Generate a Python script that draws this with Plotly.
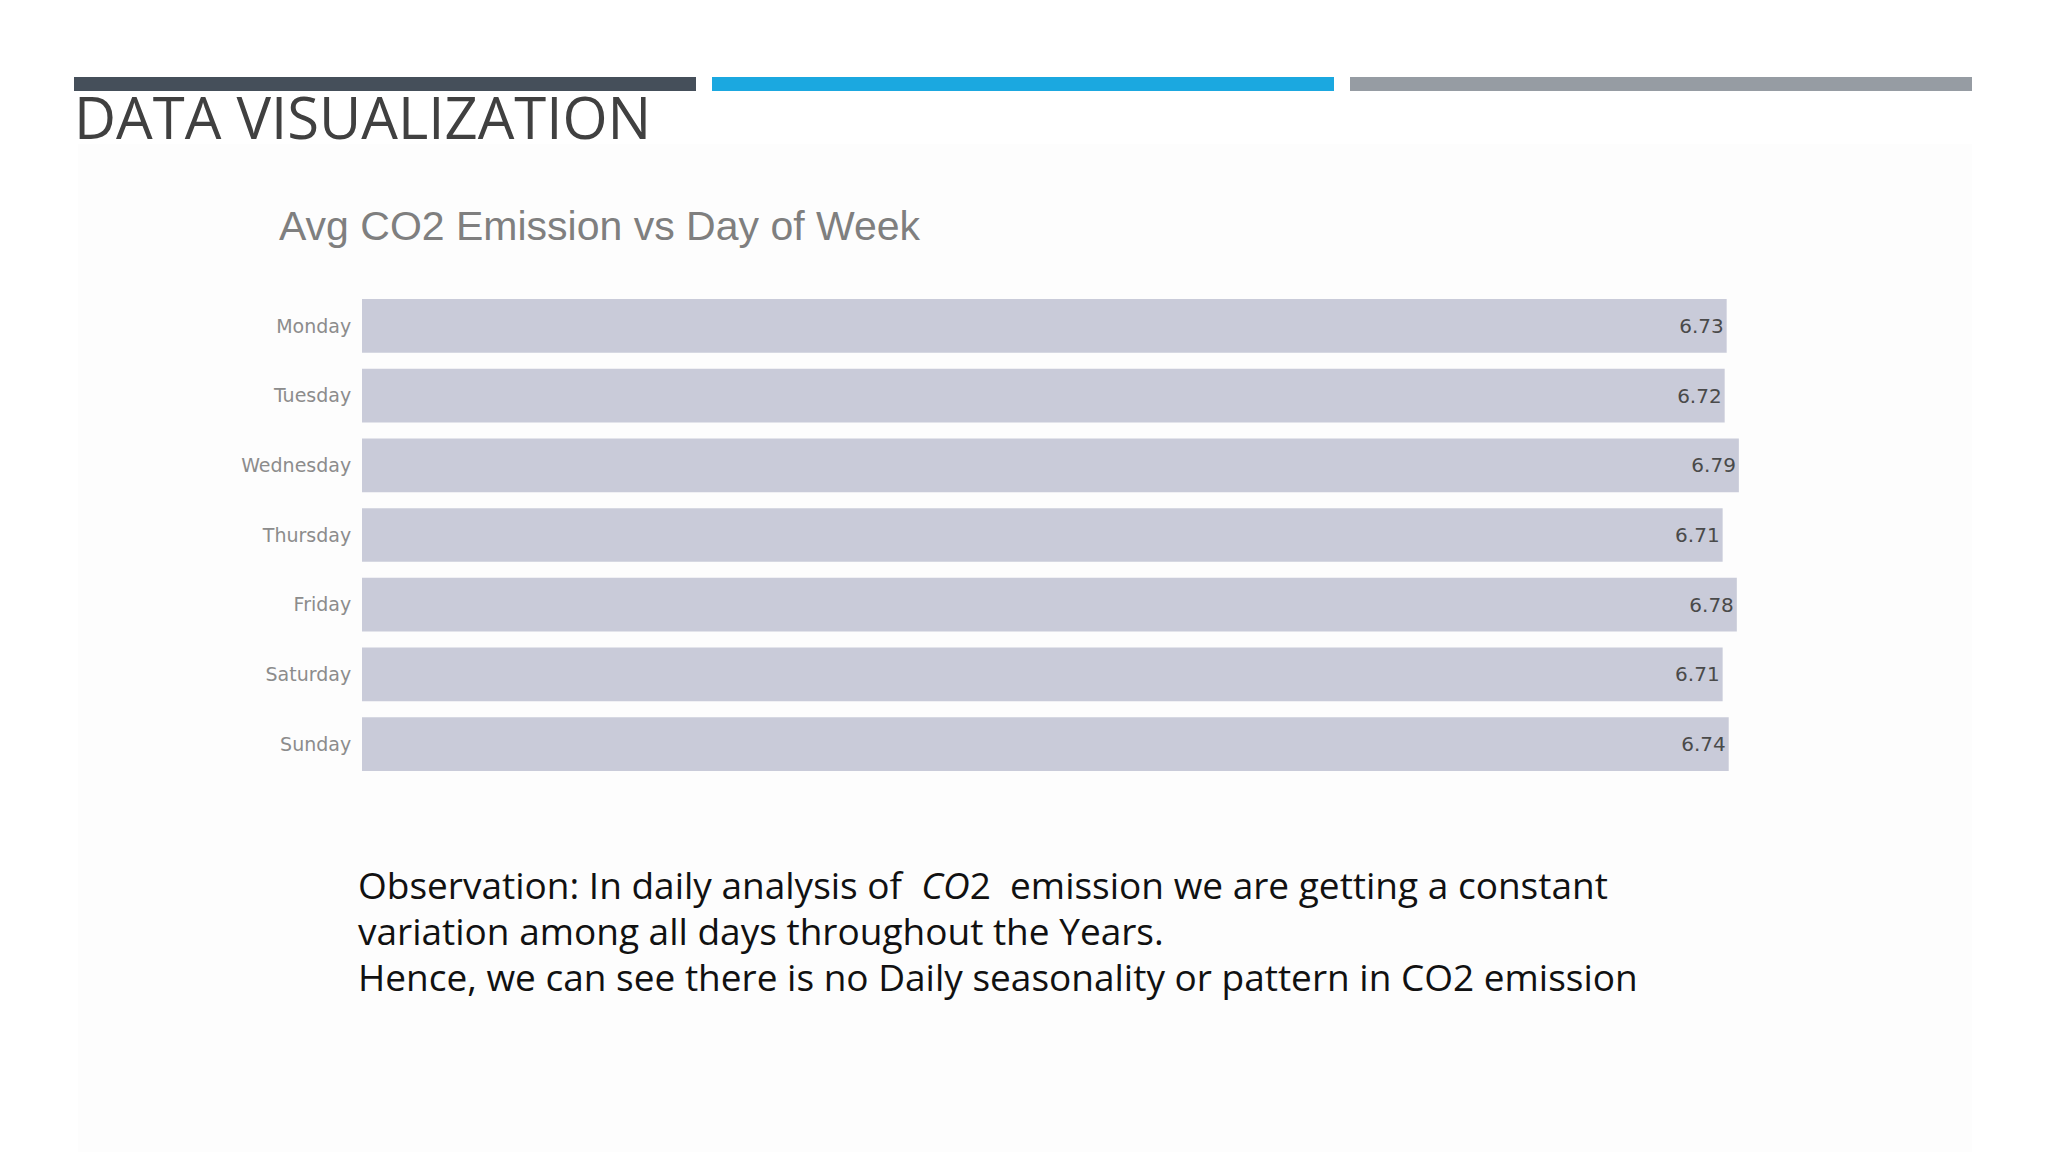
import plotly.graph_objects as go

# data
days = ['Monday', 'Tuesday', 'Wednesday', 'Thursday', 'Friday', 'Saturday', 'Sunday']
avg_co2 = [6.73, 6.72, 6.79, 6.71, 6.78, 6.71, 6.74]
notes = [
    'Observation: In daily analysis of  <i>CO</i>2  emission we are getting a constant',
    'variation among all days throughout the Years.',
    'Hence, we can see there is no Daily seasonality or pattern in CO2 emission',
]

W, H = 2048, 1152
DX, DY = -8, -8  # small nudge to line up with the slide


def px_x(x):
    return (x + DX) / W


def px_y(y):
    return 1 - (y + DY) / H


fig = go.Figure()
fig.add_trace(go.Bar(
    x=avg_co2, y=days, orientation='h',
    marker=dict(color='#c9cbd9', line=dict(width=0)),
    text=[f'{v:.2f}' for v in avg_co2],
    textposition='inside', insidetextanchor='end',
    textfont=dict(family='DejaVu Sans', size=20, color='#4a4a4a'),
    hoverinfo='skip',
))

fig.update_xaxes(range=[0, 7.2], visible=False, domain=[px_x(362), px_x(1822)])
fig.update_yaxes(categoryorder='array', categoryarray=days, autorange='reversed',
                 domain=[px_y(779), px_y(291)], showgrid=False, zeroline=False,
                 ticks='outside', ticklen=6, tickcolor='rgba(0,0,0,0)',
                 tickfont=dict(family='DejaVu Sans', size=19, color='#8c8c8c'))

# slide decoration: three header strips and faint content panel
shapes = [
    dict(type='rect', xref='paper', yref='paper', x0=px_x(78), x1=px_x(1972), y0=0, y1=px_y(144),
         fillcolor='#fdfdfd', line=dict(width=0), layer='below'),
    dict(type='rect', xref='paper', yref='paper', x0=px_x(74), x1=px_x(696), y0=px_y(91), y1=px_y(77),
         fillcolor='#454f5a', line=dict(width=0)),
    dict(type='rect', xref='paper', yref='paper', x0=px_x(712), x1=px_x(1334), y0=px_y(91), y1=px_y(77),
         fillcolor='#1ba8e0', line=dict(width=0)),
    dict(type='rect', xref='paper', yref='paper', x0=px_x(1350), x1=px_x(1972), y0=px_y(91), y1=px_y(77),
         fillcolor='#969ca3', line=dict(width=0)),
]

annotations = [
    dict(text='DATA VISUALIZATION', x=px_x(72), y=px_y(116), xref='paper', yref='paper',
         xanchor='left', yanchor='middle', showarrow=False,
         font=dict(family='Open Sans', size=58, color='#404040')),
    dict(text='Avg CO2 Emission vs Day of Week', x=px_x(277), y=px_y(226), xref='paper', yref='paper',
         xanchor='left', yanchor='middle', showarrow=False,
         font=dict(family='Liberation Sans', size=41, color='#7f7f7f')),
]
for i, line in enumerate(notes):
    annotations.append(dict(
        text=line, x=px_x(356), y=px_y(884 + 46 * i), xref='paper', yref='paper', align='left',
        xanchor='left', yanchor='middle', showarrow=False,
        font=dict(family='Open Sans', size=37, color='#111111')))

fig.update_layout(
    width=W, height=H, margin=dict(l=0, r=0, t=0, b=0),
    paper_bgcolor='white', plot_bgcolor='rgba(0,0,0,0)',
    showlegend=False, bargap=0.23,
    shapes=shapes, annotations=annotations,
)

fig.write_html('out.html')
